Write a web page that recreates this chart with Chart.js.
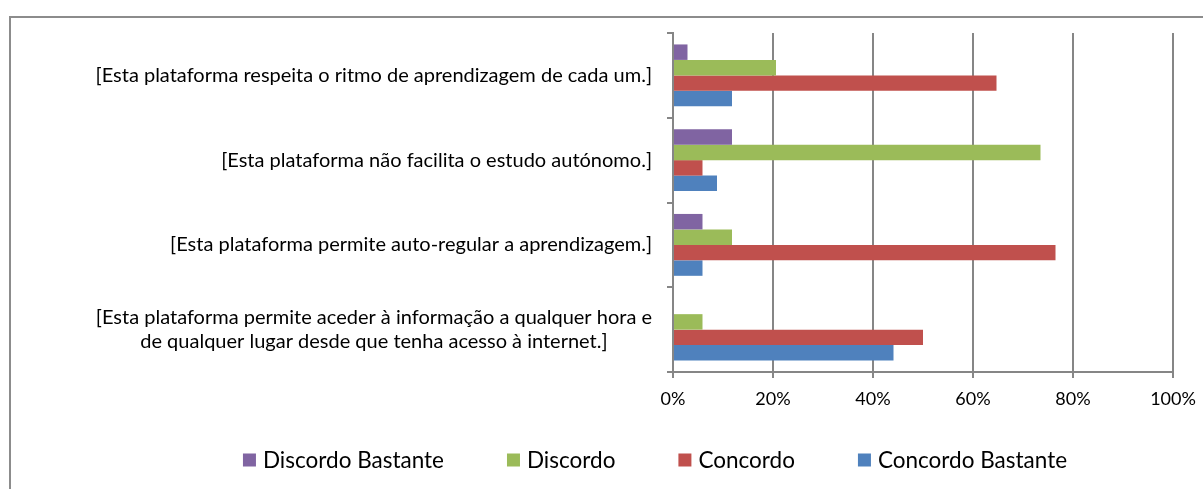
<!DOCTYPE html>
<html><head><meta charset="utf-8">
<script src="https://cdn.jsdelivr.net/npm/chart.js@4.4.1/dist/chart.umd.min.js"></script>
<style>
html,body{margin:0;padding:0;background:#fff;}
#wrap{position:relative;width:1203px;height:489px;overflow:hidden;}
#frame{position:absolute;left:9px;top:16px;width:1400px;height:600px;border-left:2px solid #8c8c8c;border-top:2px solid #8c8c8c;box-sizing:border-box;}
canvas{position:absolute;left:0;top:0;}
</style></head><body>
<div id="wrap"><div id="frame"></div><canvas id="c" width="1203" height="489"></canvas></div>
<script>
const categories = [
  '[Esta plataforma respeita o ritmo de aprendizagem de cada um.]',
  '[Esta plataforma não facilita o estudo autónomo.]',
  '[Esta plataforma permite auto-regular a aprendizagem.]',
  ['[Esta plataforma permite aceder à informação a qualquer hora e', 'de qualquer lugar desde que tenha acesso à internet.]']
];
const seriesNames = ['Discordo Bastante', 'Discordo', 'Concordo', 'Concordo Bastante'];
const discordoBastante = [2.9, 11.8, 5.9, 0];
const discordo = [20.6, 73.5, 11.8, 5.9];
const concordo = [64.7, 5.9, 76.5, 50.0];
const concordoBastante = [11.8, 8.8, 5.9, 44.1];
const xMin = 0, xMax = 100, xStep = 20;

const colors = ['#8064A2', '#9BBB59', '#C0504D', '#4F81BD'];
const FONT = 'Lato';
const Y_FONT = 20;
const X_FONT = 18;
const LEGEND_FONT = 22.5;
const LEGEND_CENTER_X = 655;
const LEGEND_Y = 460;
const GRID = '#868686';

const yLabelPlugin = {
  id: 'yLabels',
  afterDraw(chart) {
    const s = chart.scales.y, ctx = chart.ctx;
    ctx.save();
    ctx.font = Y_FONT + 'px ' + FONT;
    ctx.fillStyle = '#000';
    ctx.textAlign = 'center';
    ctx.textBaseline = 'middle';
    const right = s.right - 6 - 15;
    chart.data.labels.forEach((lab, i) => {
      const lines = [].concat(lab);
      const w = Math.max(...lines.map(l => ctx.measureText(l).width));
      const cx = right - w / 2;
      const cy = s.getPixelForTick(i);
      lines.forEach((l, j) => ctx.fillText(l, cx, cy + (j - (lines.length - 1) / 2) * 24));
    });
    ctx.restore();
  }
};

const legendPlugin = {
  id: 'officeLegend',
  afterDraw(chart) {
    const ctx = chart.ctx;
    ctx.save();
    ctx.font = LEGEND_FONT + 'px ' + FONT;
    ctx.textBaseline = 'middle';
    ctx.textAlign = 'left';
    const box = 13, boxGap = 7, itemGap = 63;
    const items = chart.data.datasets.map(d => ({ text: d.label, color: d.backgroundColor, w: ctx.measureText(d.label).width }));
    const total = items.reduce((s, it) => s + box + boxGap + it.w, 0) + itemGap * (items.length - 1);
    let x = LEGEND_CENTER_X - total / 2;
    items.forEach(it => {
      ctx.fillStyle = it.color;
      ctx.fillRect(x, LEGEND_Y - box / 2, box, box);
      ctx.fillStyle = '#000';
      ctx.fillText(it.text, x + box + boxGap, LEGEND_Y + 1);
      x += box + boxGap + it.w + itemGap;
    });
    ctx.restore();
  }
};

const seriesData = [discordoBastante, discordo, concordo, concordoBastante];
new Chart(document.getElementById('c'), {
  type: 'bar',
  data: {
    labels: categories,
    datasets: seriesNames.map((n, i) => ({
      label: n,
      data: seriesData[i],
      backgroundColor: colors[i],
      borderWidth: 0,
      categoryPercentage: 0.73,
      barPercentage: 1
    }))
  },
  options: {
    indexAxis: 'y',
    responsive: false,
    animation: false,
    devicePixelRatio: 1,
    layout: { padding: { left: 136, right: 30, top: 33, bottom: 69.4 } },
    scales: {
      x: {
        min: xMin, max: xMax,
        afterFit(s) { s.paddingLeft = 0; s.paddingRight = 0; },
        ticks: { stepSize: xStep, callback: v => v + '%', color: '#000', padding: 10, font: { family: FONT, size: X_FONT }, maxRotation: 0 },
        grid: { color: GRID, lineWidth: 2, tickLength: 6, drawTicks: true },
        border: { color: GRID, width: 2 }
      },
      y: {
        afterFit(s) { s.width = 537; },
        ticks: { display: false },
        grid: { drawOnChartArea: false, offset: true, color: GRID, lineWidth: 2, tickLength: 6 },
        border: { color: GRID, width: 2 }
      }
    },
    plugins: {
      legend: { display: false },
      tooltip: { enabled: false }
    }
  },
  plugins: [yLabelPlugin, legendPlugin]
});
</script>
</body></html>
